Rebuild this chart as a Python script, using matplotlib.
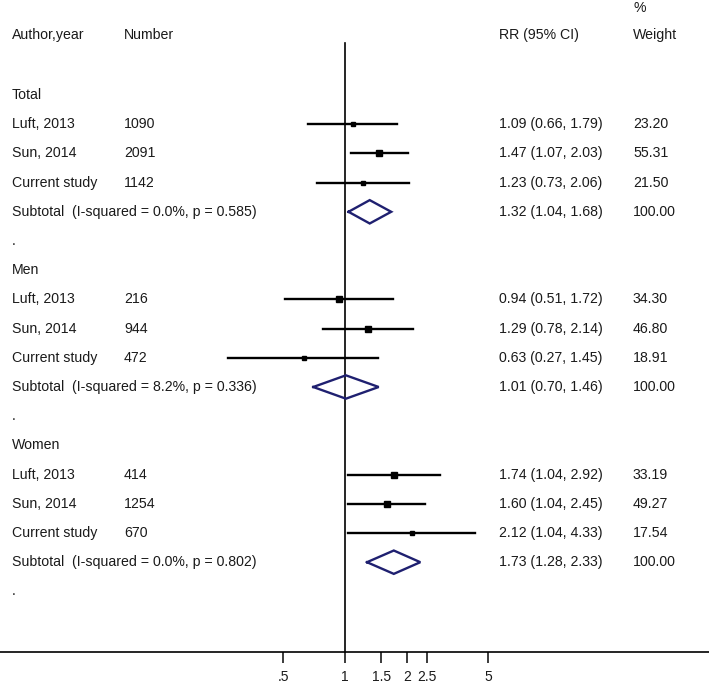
import numpy as np
import matplotlib
matplotlib.use("Agg")
import matplotlib.pyplot as plt
from matplotlib.transforms import blended_transform_factory

plt.rcParams["font.family"] = ["Liberation Sans", "DejaVu Sans"]

groups = ["Total", "Men", "Women"]
studies = ["Luft, 2013", "Sun, 2014", "Current study"]
numbers = [[1090, 2091, 1142], [216, 944, 472], [414, 1254, 670]]
rr = [[1.09, 1.47, 1.23], [0.94, 1.29, 0.63], [1.74, 1.60, 2.12]]
lo = [[0.66, 1.07, 0.73], [0.51, 0.78, 0.27], [1.04, 1.04, 1.04]]
hi = [[1.79, 2.03, 2.06], [1.72, 2.14, 1.45], [2.92, 2.45, 4.33]]
weights = [[23.20, 55.31, 21.50], [34.30, 46.80, 18.91], [33.19, 49.27, 17.54]]
sub_rr = [1.32, 1.01, 1.73]
sub_lo = [1.04, 0.70, 1.28]
sub_hi = [1.68, 1.46, 2.33]
i2 = ["0.0%", "8.2%", "0.0%"]
pvals = ["0.585", "0.336", "0.802"]
xticks = [0.5, 1, 1.5, 2, 2.5, 5]
xticklabels = [".5", "1", "1.5", "2", "2.5", "5"]

W, H = 709, 683
fig = plt.figure(figsize=(W / 100, H / 100), dpi=100)
ax = fig.add_axes([0, 0, 1, 1])
ax.set_xscale("log")
ax.set_xlim(10 ** (-345 / 205), 10 ** ((W - 345) / 205))
# row i sits at pixel 95 + 29.2*i
ax.set_ylim((H - 95) / 29.2, -95 / 29.2)

txt = "#1a1a1a"
fs = 10.2
tr = blended_transform_factory(ax.transAxes, ax.transData)
c_name, c_num, c_rr, c_w = 12 / W, 124 / W, 499 / W, 633 / W

def put(x, y, s):
    ax.text(x, y, s, transform=tr, ha="left", va="center", fontsize=fs, color=txt)

# header
put(c_name, -2.05, "Author,year")
put(c_num, -2.05, "Number")
put(c_rr, -2.05, "RR (95% CI)")
put(c_w, -2.98, "%")
put(c_w, -2.05, "Weight")

axis_y = (652 - 95) / 29.2
ax.plot([1, 1], [(43 - 95) / 29.2, axis_y], color="black", lw=1.2, zorder=1)

navy = "#1f2070"
for g, grp in enumerate(groups):
    base = g * 6
    put(c_name, base, grp)
    for k, st in enumerate(studies):
        y = base + 1 + k
        put(c_name, y, st)
        put(c_num, y, str(numbers[g][k]))
        put(c_rr, y, f"{rr[g][k]:.2f} ({lo[g][k]:.2f}, {hi[g][k]:.2f})")
        put(c_w, y, f"{weights[g][k]:.2f}")
        ax.plot([lo[g][k], hi[g][k]], [y, y], color="black", lw=1.7, zorder=2)
        ax.plot(rr[g][k], y, marker="s", color="black",
                markersize=0.65 * np.sqrt(weights[g][k]), zorder=3)
    ys = base + 4
    put(c_name, ys, f"Subtotal  (I-squared = {i2[g]}, p = {pvals[g]})")
    put(c_rr, ys, f"{sub_rr[g]:.2f} ({sub_lo[g]:.2f}, {sub_hi[g]:.2f})")
    put(c_w, ys, "100.00")
    dx = [sub_lo[g], sub_rr[g], sub_hi[g], sub_rr[g], sub_lo[g]]
    dy = [ys, ys - 0.4, ys, ys + 0.4, ys]
    ax.plot(dx, dy, color=navy, lw=1.7, zorder=3, solid_joinstyle="miter")
    put(c_name, base + 5, ".")

for s in ["top", "left", "right"]:
    ax.spines[s].set_visible(False)
ax.spines["bottom"].set_position(("data", axis_y))
ax.spines["bottom"].set_linewidth(1.2)
ax.xaxis.set_minor_locator(matplotlib.ticker.NullLocator())
ax.set_xticks(xticks)
ax.set_xticklabels(xticklabels)
ax.tick_params(axis="x", direction="out", length=8, width=1.2, labelsize=10,
               pad=5, colors=txt)
ax.set_yticks([])
ax.patch.set_visible(False)

fig.savefig("out.png", dpi=100)
